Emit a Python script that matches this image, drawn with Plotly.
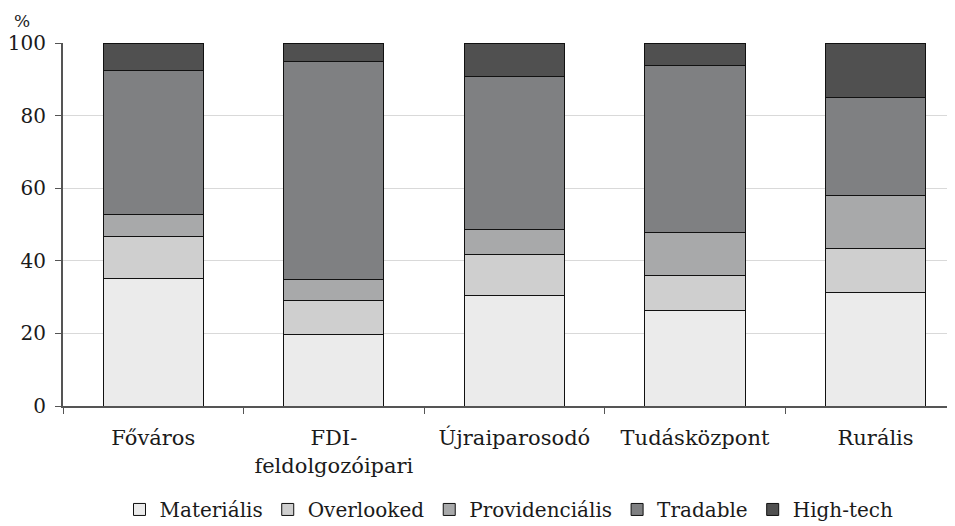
import plotly.graph_objects as go

categories = ["Főváros", "FDI-<br>feldolgozóipari", "Újraiparosodó", "Tudásközpont", "Rurális"]
series_names = ["Materiális", "Overlooked", "Providenciális", "Tradable", "High-tech"]
materialis = [35.0, 19.8, 30.4, 26.4, 31.2]
overlooked = [11.6, 9.2, 11.4, 9.6, 12.3]
providencialis = [6.2, 5.8, 6.9, 11.9, 14.6]
tradable = [39.6, 60.2, 42.0, 45.9, 26.9]
hightech = [7.6, 5.0, 9.3, 6.2, 15.0]
y_ticks = [0, 20, 40, 60, 80, 100]

series_values = [materialis, overlooked, providencialis, tradable, hightech]
colors = ["#ebebeb", "#cfcfcf", "#a8a9aa", "#7f8082", "#505050"]

FONT = "DejaVu Serif"
TXT = "#1a1a1a"
fig = go.Figure()
for name, vals, col in zip(series_names, series_values, colors):
    fig.add_trace(go.Bar(
        x=categories, y=vals, name=name,
        marker=dict(color=col, line=dict(color="#111111", width=1)),
        width=0.555,
    ))

fig.update_layout(
    barmode="stack",
    width=947, height=518,
    margin=dict(l=55, r=0, t=35, b=120, autoexpand=False),
    paper_bgcolor="white", plot_bgcolor="white",
    font=dict(family=FONT, size=20, color=TXT),
    showlegend=True,
    legend=dict(orientation="h", x=0.5, xanchor="center", y=-0.285, yanchor="middle",
                font=dict(family=FONT, size=20, color=TXT),
                itemwidth=30, traceorder="normal"),
    xaxis=dict(type="category", range=[-0.5, 4.44], showgrid=False, automargin=False,
               showline=True, linecolor="#555555", linewidth=2,
               ticks="outside", tickson="boundaries", ticklen=6, tickcolor="#555555",
               ticklabelstandoff=12,
               tickfont=dict(family=FONT, size=21, color=TXT)),
    yaxis=dict(range=[0, 100], tickvals=y_ticks, showgrid=True, gridcolor="#d9d9d9",
               gridwidth=1, zeroline=False, automargin=False,
               showline=True, linecolor="#555555", linewidth=2,
               ticks="outside", ticklen=6, tickcolor="#555555",
               ticklabelstandoff=5,
               tickfont=dict(family=FONT, size=20, color=TXT)),
    annotations=[dict(text="%", xref="paper", yref="paper", x=-0.046, y=1,
                      xanchor="center", yanchor="middle", yshift=22, showarrow=False,
                      font=dict(family=FONT, size=17, color=TXT))],
)
fig.write_html("out.html")
